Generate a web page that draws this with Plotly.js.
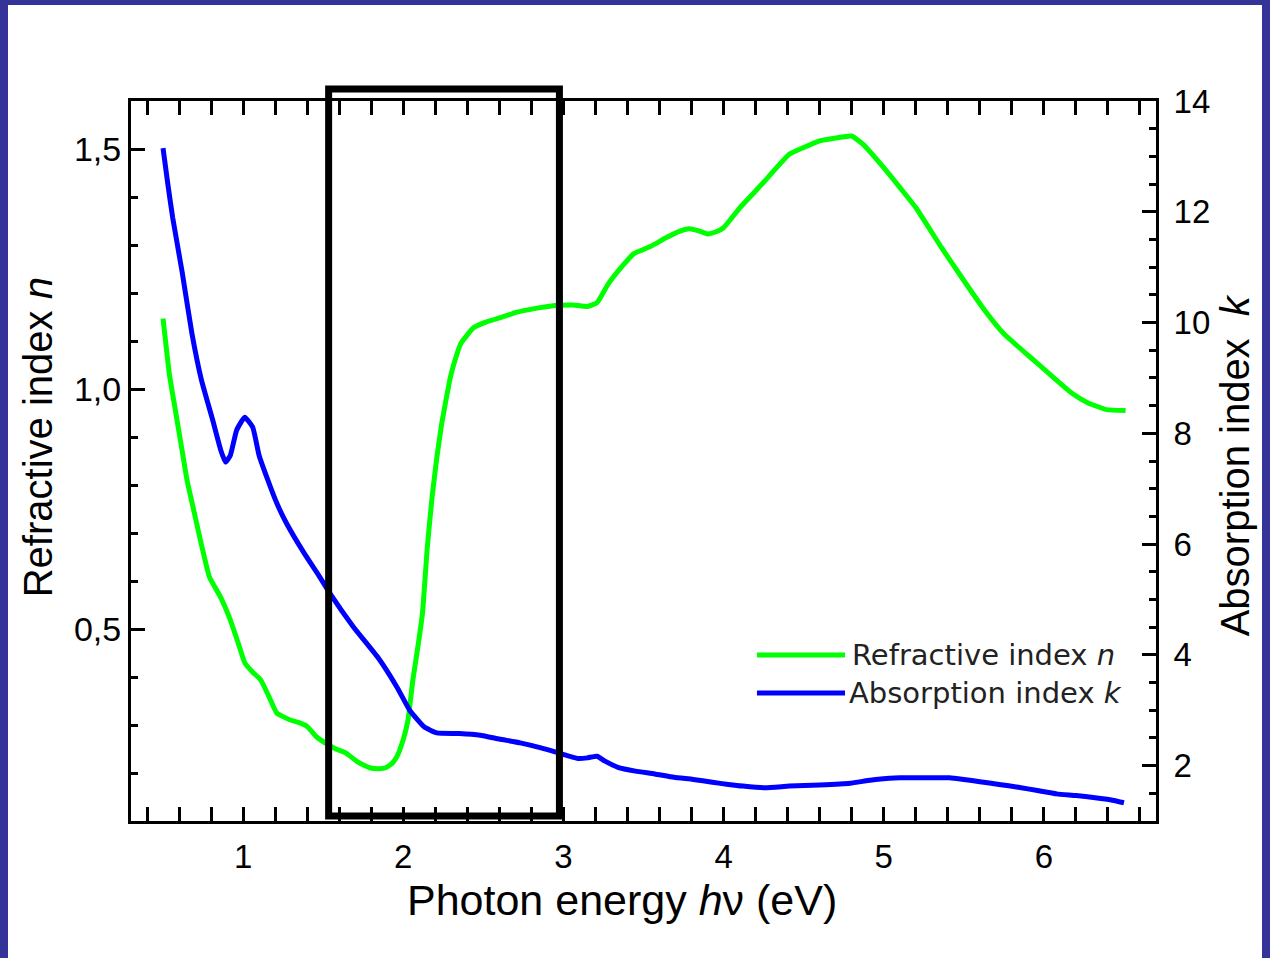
<!DOCTYPE html>
<html>
<head>
<meta charset="utf-8">
<script src="https://cdn.plot.ly/plotly-3.0.1.min.js"></script>
<style>
  html, body { margin: 0; padding: 0; background: #333399; width: 1270px; height: 958px; overflow: hidden; }
  #chart { position: absolute; left: 8px; top: 5px; width: 1254px; height: 953px; background: #ffffff; overflow: hidden; }
</style>
</head>
<body>
<div id="chart"></div>
<script>
// Refractive index n (left axis)
const nEnergy = [0.5,0.54,0.58,0.61,0.65,0.69,0.73,0.79,0.86,0.92,0.97,1.01,1.06,1.11,1.16,1.21,1.29,1.35,1.40,1.46,1.525,1.58,1.64,1.72,1.79,1.85,1.89,1.93,1.96,2.00,2.03,2.06,2.09,2.12,2.15,2.18,2.21,2.24,2.29,2.31,2.36,2.44,2.52,2.61,2.71,2.81,2.95,3.06,3.15,3.21,3.28,3.37,3.44,3.55,3.64,3.72,3.785,3.84,3.90,3.95,4.0,4.10,4.24,4.41,4.50,4.60,4.70,4.80,4.87,5.0,5.10,5.20,5.36,5.50,5.63,5.75,5.94,6.08,6.18,6.27,6.39,6.51];
const nValues = [1.147,1.03,0.95,0.89,0.81,0.75,0.69,0.608,0.566,0.519,0.47,0.43,0.41,0.394,0.36,0.325,0.311,0.305,0.297,0.275,0.26,0.25,0.242,0.222,0.211,0.209,0.211,0.22,0.234,0.27,0.311,0.394,0.46,0.533,0.67,0.775,0.858,0.928,1.018,1.045,1.095,1.128,1.14,1.149,1.16,1.167,1.174,1.175,1.172,1.18,1.219,1.257,1.282,1.298,1.315,1.328,1.334,1.33,1.323,1.327,1.336,1.377,1.427,1.489,1.503,1.517,1.523,1.527,1.51,1.461,1.42,1.378,1.295,1.226,1.164,1.115,1.059,1.018,0.99,0.972,0.957,0.955];

// Absorption index k (right axis)
const kEnergy = [0.5,0.53,0.56,0.62,0.68,0.74,0.81,0.86,0.89,0.92,0.96,1.01,1.06,1.10,1.15,1.21,1.27,1.38,1.48,1.54,1.69,1.84,1.96,2.04,2.13,2.21,2.35,2.48,2.60,2.73,2.86,2.98,3.09,3.15,3.21,3.26,3.34,3.45,3.57,3.69,3.81,3.93,4.03,4.12,4.26,4.41,4.60,4.79,4.90,4.98,5.10,5.24,5.41,5.50,5.60,5.72,5.84,5.96,6.08,6.20,6.32,6.42,6.5];
const kValues = [13.15,12.5,11.9,10.9,9.81,8.96,8.24,7.7,7.48,7.6,8.06,8.29,8.11,7.6,7.19,6.74,6.38,5.84,5.40,5.12,4.50,3.96,3.42,3.0,2.70,2.59,2.58,2.55,2.48,2.41,2.32,2.22,2.13,2.14,2.17,2.08,1.97,1.90,1.85,1.79,1.75,1.70,1.66,1.63,1.60,1.63,1.65,1.68,1.73,1.76,1.78,1.78,1.78,1.75,1.71,1.66,1.61,1.55,1.49,1.46,1.42,1.38,1.33];

const seriesNames = ["Refractive index <i>n</i>", "Absorption index <i>k</i>"];
const axisTitles = ["Photon energy <i>h</i>ν (eV)", "Refractive index <i>n</i>", "Absorption index\u00a0 <i>k</i>"];
const highlightRange = [1.534, 2.975];

const FONT = "Liberation Sans, Arial, sans-serif";
const LEGFONT = "DejaVu Sans, Verdana, sans-serif";

const traces = [
  { x: nEnergy, y: nValues, name: seriesNames[0], type: "scatter", mode: "lines",
    line: { color: "#00ff00", width: 5, shape: "spline", smoothing: 0.4 }, yaxis: "y", showlegend: false },
  { x: kEnergy, y: kValues, name: seriesNames[1], type: "scatter", mode: "lines",
    line: { color: "#0000ff", width: 5, shape: "spline", smoothing: 0.4 }, yaxis: "y2", showlegend: false }
];

const layout = {
  width: 1254, height: 953,
  margin: { l: 123, r: 106, t: 96, b: 137 },
  paper_bgcolor: "#ffffff", plot_bgcolor: "#ffffff",
  separators: ",.",
  font: { family: FONT, color: "#000000", size: 33 },
  showlegend: false,
  xaxis: {
    range: [0.3, 6.7], dtick: 1, tick0: 0,
    ticks: "inside", ticklen: 14, tickwidth: 3, tickcolor: "#000",
    showline: true, linewidth: 3, linecolor: "#000", mirror: "allticks",
    showgrid: false, zeroline: false, ticklabelstandoff: 4,
    minor: { dtick: 0.2, ticks: "inside", ticklen: 7, tickwidth: 3, tickcolor: "#000", showgrid: false },
    tickfont: { size: 33, family: FONT }
  },
  yaxis: {
    range: [0.1, 1.6], dtick: 0.5, tick0: 0, tickformat: ".1f",
    ticks: "inside", ticklen: 14, tickwidth: 3, tickcolor: "#000",
    showline: true, linewidth: 3, linecolor: "#000", mirror: false,
    showgrid: false, zeroline: false,
    minor: { dtick: 0.1, ticks: "inside", ticklen: 7, tickwidth: 3, tickcolor: "#000", showgrid: false },
    tickfont: { size: 34, family: FONT }
  },
  yaxis2: {
    overlaying: "y", side: "right",
    range: [1, 14], dtick: 2, tick0: 0,
    ticks: "inside", ticklen: 14, tickwidth: 3, tickcolor: "#000",
    showline: true, linewidth: 3, linecolor: "#000",
    showgrid: false, zeroline: false, ticklabelstandoff: 8,
    minor: { dtick: 0.5, ticks: "inside", ticklen: 7, tickwidth: 3, tickcolor: "#000", showgrid: false },
    tickfont: { size: 33, family: FONT }
  },
  shapes: [
    { type: "rect", xref: "x", yref: "paper", x0: highlightRange[0], x1: highlightRange[1], y0: 0.007, y1: 1.0167,
      line: { color: "#000", width: 7 }, fillcolor: "rgba(0,0,0,0)", layer: "above" },
    { type: "line", xref: "paper", yref: "paper", x0: 0.6107, x1: 0.6966, y0: 0.2306, y1: 0.2306,
      line: { color: "#00ff00", width: 5 } },
    { type: "line", xref: "paper", yref: "paper", x0: 0.6107, x1: 0.6966, y0: 0.1778, y1: 0.1778,
      line: { color: "#0000ff", width: 5 } }
  ],
  annotations: [
    { xref: "paper", yref: "paper", x: 0.479, y: -0.1097, xanchor: "center", yanchor: "middle", showarrow: false,
      text: axisTitles[0], font: { size: 43, family: FONT, color: "#000" } },
    { xref: "paper", yref: "paper", x: -0.0907, y: 0.533, xanchor: "center", yanchor: "middle", showarrow: false,
      textangle: -90, text: axisTitles[1], font: { size: 40, family: FONT, color: "#000" } },
    { xref: "paper", yref: "paper", x: 1.0771, y: 0.494, xanchor: "center", yanchor: "middle", showarrow: false,
      textangle: -90, text: axisTitles[2], font: { size: 40, family: FONT, color: "#000" } },
    { xref: "paper", yref: "paper", x: 0.7015, y: 0.2306, xanchor: "left", yanchor: "middle", showarrow: false,
      text: seriesNames[0], font: { size: 29, family: LEGFONT, color: "#222" } },
    { xref: "paper", yref: "paper", x: 0.6985, y: 0.1778, xanchor: "left", yanchor: "middle", showarrow: false,
      text: seriesNames[1], font: { size: 29, family: LEGFONT, color: "#222" } }
  ]
};

Plotly.newPlot("chart", traces, layout, { displayModeBar: false, staticPlot: true });
</script>
</body>
</html>
